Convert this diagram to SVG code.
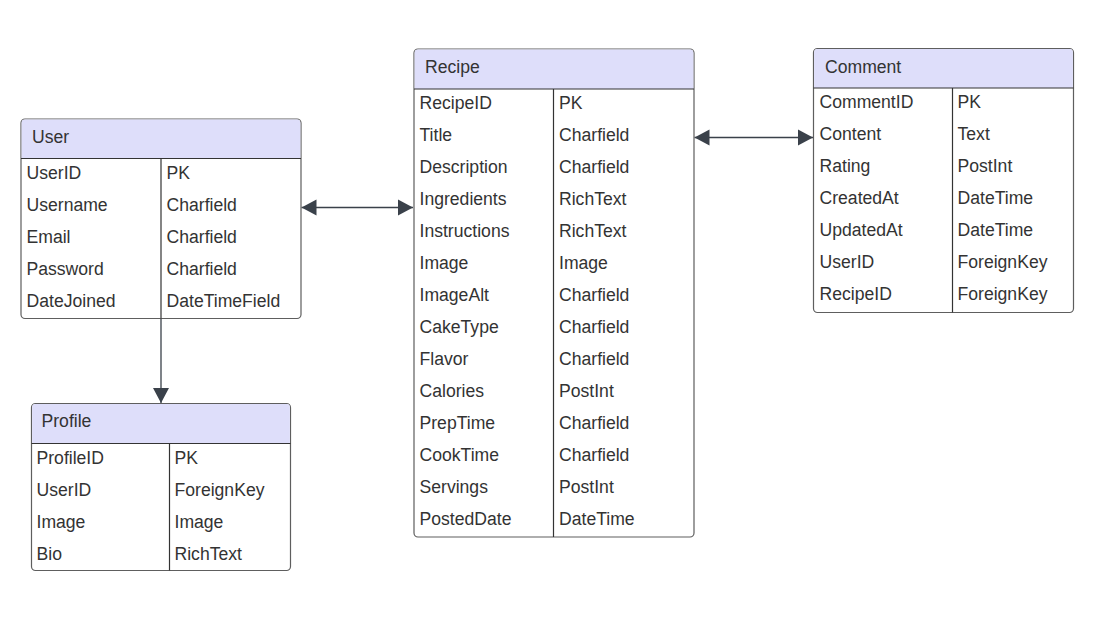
<svg xmlns="http://www.w3.org/2000/svg" width="1093" height="622" viewBox="0 0 1093 622">
<style>
.box{fill:#ffffff;stroke:#5e5e5e;stroke-width:1.2}
.hdr{fill:#dedefa}
.ln{stroke:#333333;stroke-width:1.2;fill:none}
.t{font-family:"Liberation Sans",Arial,sans-serif;font-size:17.6px;fill:#333333}
.con{stroke:#3a414a;stroke-width:1.3;fill:none}
</style>
<defs>
<marker id="ah" markerUnits="userSpaceOnUse" markerWidth="16" markerHeight="18" refX="15" refY="8" orient="auto-start-reverse" viewBox="0 0 16 16">
<path d="M0,0 L15,8 L0,16 Z" fill="#3a414a"/>
</marker>
</defs>
<rect width="1093" height="622" fill="#ffffff"/>

<g id="connectors">
<line class="con" x1="161" y1="318.5" x2="161" y2="403" marker-end="url(#ah)"/>
<line class="con" x1="301.5" y1="207.5" x2="413" y2="207.5" marker-start="url(#ah)" marker-end="url(#ah)"/>
<line class="con" x1="694.5" y1="137.5" x2="813" y2="137.5" marker-start="url(#ah)" marker-end="url(#ah)"/>
</g>

<g id="user">
<rect class="box" x="21" y="119" width="280" height="199.5" rx="4"/>
<path class="hdr" d="M25,119.6 H297 A3.4,3.4 0 0 1 300.4,123 V158.5 H21.6 V123 A3.4,3.4 0 0 1 25,119.6 Z"/>
<line class="ln" x1="21" y1="158.5" x2="301" y2="158.5"/>
<line class="ln" x1="161" y1="158.5" x2="161" y2="318.5"/>
<text class="t" x="32" y="142.5">User</text>
<text class="t" x="26.5" y="178.5">UserID</text><text class="t" x="166.5" y="178.5">PK</text>
<text class="t" x="26.5" y="210.5">Username</text><text class="t" x="166.5" y="210.5">Charfield</text>
<text class="t" x="26.5" y="242.5">Email</text><text class="t" x="166.5" y="242.5">Charfield</text>
<text class="t" x="26.5" y="274.5">Password</text><text class="t" x="166.5" y="274.5">Charfield</text>
<text class="t" x="26.5" y="306.5">DateJoined</text><text class="t" x="166.5" y="306.5">DateTimeField</text>
</g>

<g id="profile">
<rect class="box" x="31.5" y="403.5" width="259" height="167" rx="4"/>
<path class="hdr" d="M35.5,404.1 H286.5 A3.4,3.4 0 0 1 289.9,407.5 V443.5 H32.1 V407.5 A3.4,3.4 0 0 1 35.5,404.1 Z"/>
<line class="ln" x1="31.5" y1="443.5" x2="290.5" y2="443.5"/>
<line class="ln" x1="169.5" y1="443.5" x2="169.5" y2="570.5"/>
<text class="t" x="41.5" y="427">Profile</text>
<text class="t" x="36.5" y="463.5">ProfileID</text><text class="t" x="174.5" y="463.5">PK</text>
<text class="t" x="36.5" y="495.5">UserID</text><text class="t" x="174.5" y="495.5">ForeignKey</text>
<text class="t" x="36.5" y="527.5">Image</text><text class="t" x="174.5" y="527.5">Image</text>
<text class="t" x="36.5" y="559.5">Bio</text><text class="t" x="174.5" y="559.5">RichText</text>
</g>

<g id="recipe">
<rect class="box" x="414" y="49" width="280" height="488" rx="4"/>
<path class="hdr" d="M418,49.6 H690 A3.4,3.4 0 0 1 693.4,53 V89 H414.6 V53 A3.4,3.4 0 0 1 418,49.6 Z"/>
<line class="ln" x1="414" y1="89" x2="694" y2="89"/>
<line class="ln" x1="553.5" y1="89" x2="553.5" y2="537"/>
<text class="t" x="425" y="73">Recipe</text>
<text class="t" x="419.5" y="109">RecipeID</text><text class="t" x="559" y="109">PK</text>
<text class="t" x="419.5" y="141">Title</text><text class="t" x="559" y="141">Charfield</text>
<text class="t" x="419.5" y="173">Description</text><text class="t" x="559" y="173">Charfield</text>
<text class="t" x="419.5" y="205">Ingredients</text><text class="t" x="559" y="205">RichText</text>
<text class="t" x="419.5" y="237">Instructions</text><text class="t" x="559" y="237">RichText</text>
<text class="t" x="419.5" y="269">Image</text><text class="t" x="559" y="269">Image</text>
<text class="t" x="419.5" y="301">ImageAlt</text><text class="t" x="559" y="301">Charfield</text>
<text class="t" x="419.5" y="333">CakeType</text><text class="t" x="559" y="333">Charfield</text>
<text class="t" x="419.5" y="365">Flavor</text><text class="t" x="559" y="365">Charfield</text>
<text class="t" x="419.5" y="397">Calories</text><text class="t" x="559" y="397">PostInt</text>
<text class="t" x="419.5" y="429">PrepTime</text><text class="t" x="559" y="429">Charfield</text>
<text class="t" x="419.5" y="461">CookTime</text><text class="t" x="559" y="461">Charfield</text>
<text class="t" x="419.5" y="493">Servings</text><text class="t" x="559" y="493">PostInt</text>
<text class="t" x="419.5" y="525">PostedDate</text><text class="t" x="559" y="525">DateTime</text>
</g>

<g id="comment">
<rect class="box" x="813.5" y="48.5" width="260" height="264" rx="4"/>
<path class="hdr" d="M817.5,49.1 H1069.5 A3.4,3.4 0 0 1 1072.9,52.5 V88 H814.1 V52.5 A3.4,3.4 0 0 1 817.5,49.1 Z"/>
<line class="ln" x1="813.5" y1="88" x2="1073.5" y2="88"/>
<line class="ln" x1="952.5" y1="88" x2="952.5" y2="312.5"/>
<text class="t" x="825" y="72.5">Comment</text>
<text class="t" x="819.5" y="108">CommentID</text><text class="t" x="957.5" y="108">PK</text>
<text class="t" x="819.5" y="140">Content</text><text class="t" x="957.5" y="140">Text</text>
<text class="t" x="819.5" y="172">Rating</text><text class="t" x="957.5" y="172">PostInt</text>
<text class="t" x="819.5" y="204">CreatedAt</text><text class="t" x="957.5" y="204">DateTime</text>
<text class="t" x="819.5" y="236">UpdatedAt</text><text class="t" x="957.5" y="236">DateTime</text>
<text class="t" x="819.5" y="268">UserID</text><text class="t" x="957.5" y="268">ForeignKey</text>
<text class="t" x="819.5" y="300">RecipeID</text><text class="t" x="957.5" y="300">ForeignKey</text>
</g>
</svg>
